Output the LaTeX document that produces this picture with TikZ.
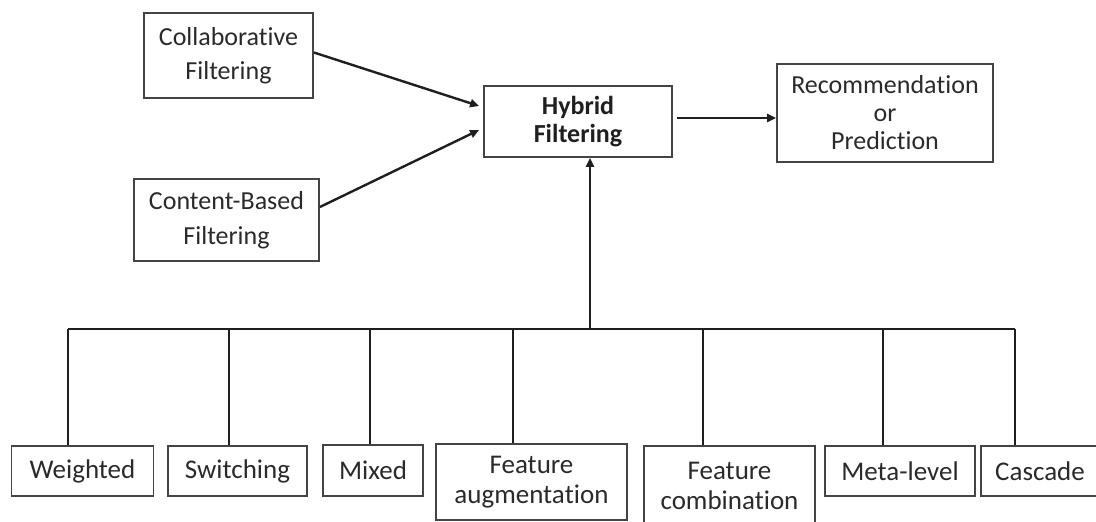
\documentclass[tikz,border=0pt]{standalone}
\usepackage{fontspec}
\setmainfont{Carlito}[Ligatures={NoCommon,NoContextual},Contextuals=NoAlternate]
\usetikzlibrary{calc,arrows.meta}
\definecolor{txt}{HTML}{2A2A2A}
\definecolor{edge}{HTML}{444444}
\tikzset{
  box/.style={draw=edge, line width=1.8pt, rectangle, inner sep=0pt, align=center, text=txt},
  topfont/.style={font=\fontsize{26}{34.5}\selectfont},
  midfont/.style={font=\fontsize{26}{28}\selectfont},
  botfont/.style={font=\fontsize{27}{30}\selectfont},
  conn/.style={line width=2.4pt, draw=black!88},
  arr/.style={conn, -{Triangle[length=9pt,width=8pt]}}
}
\begin{document}
\begin{tikzpicture}[x=1pt,y=-1pt]
\useasboundingbox (0,0) rectangle (1096,522);
\clip (0,0) rectangle (1096,522);
% top boxes
\node[box,topfont,minimum width=169pt,minimum height=85pt] (collab) at (228.5,55.5) {Collaborative\\Filtering};
\node[box,topfont,minimum width=185pt,minimum height=82pt] (content) at (226.5,220) {Content-Based\\Filtering};
\node[box,midfont,minimum width=188pt,minimum height=71pt,text=black!88] (hybrid) at (578,121.5) {\bfseries Hybrid\\\bfseries Filtering};
\node[box,midfont,minimum width=216pt,minimum height=98pt] (rec) at (885,113) {Recommenda\kern0pt tion\\or\\Predic\kern0pt tion};
% bottom boxes
\node[box,botfont,minimum width=142pt,minimum height=50pt] (weighted) at (82.5,471) {Weighted};
\node[box,botfont,minimum width=139pt,minimum height=50pt] (switching) at (237.5,471) {Switching};
\node[box,botfont,minimum width=100pt,minimum height=51pt] (mixed) at (373,470.5) {Mixed};
\node[box,botfont,minimum width=191pt,minimum height=76pt] (feataug) at (531.5,482) {Feature\\augmenta\kern0pt tion};
\node[box,botfont,minimum width=171pt,minimum height=80pt] (featcomb) at (729.5,486) {Feature\\combination};
\node[box,botfont,minimum width=150pt,minimum height=50pt] (meta) at (900,471) {Meta-level};
\node[box,botfont,minimum width=118pt,minimum height=50pt] (cascade) at (1040,471) {Cascade};
% arrows into hybrid
\draw[arr] ($(collab.east)+(0,-3)$) -- ($(hybrid.west)+(-4,-15.5)$);
\draw[arr] ($(content.east)+(0,-13)$) -- ($(hybrid.west)+(-4,8.5)$);
\coordinate (h1) at ($(hybrid.east)+(4,-3.5)$);
\draw[arr] (h1) -- (h1 -| rec.west);
% bus
\coordinate (busc) at (590,329);
\coordinate (d1) at (68,329);
\coordinate (d2) at (229,329);
\coordinate (d3) at (370,329);
\coordinate (d4) at (513,329);
\coordinate (d5) at (703,329);
\coordinate (d6) at (883,329);
\coordinate (d7) at (1015,329);
\draw[arr] (busc) -- (busc |- hybrid.south);
\draw[conn] (d1) -- (d7);
\draw[conn] (d1) -- (d1 |- weighted.north);
\draw[conn] (d2) -- (d2 |- switching.north);
\draw[conn] (d3) -- (d3 |- mixed.north);
\draw[conn] (d4) -- (d4 |- feataug.north);
\draw[conn] (d5) -- (d5 |- featcomb.north);
\draw[conn] (d6) -- (d6 |- meta.north);
\draw[conn] (d7) -- (d7 |- cascade.north);
\end{tikzpicture}
\end{document}
